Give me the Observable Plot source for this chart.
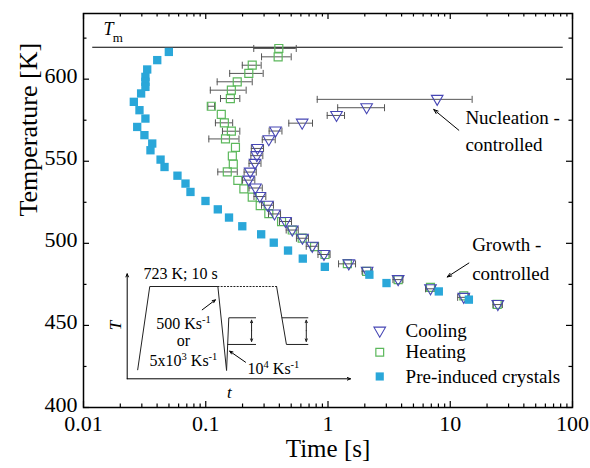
<!DOCTYPE html>
<html><head><meta charset="utf-8">
<script src="https://cdn.jsdelivr.net/npm/d3@7"></script>
<script src="https://cdn.jsdelivr.net/npm/@observablehq/plot@0.6"></script>
<style>
body{margin:0;background:#fff;}
#wrap{position:relative;width:590px;height:468px;}
#wrap svg, #wrap svg text{font-family:"Liberation Serif","Times New Roman",serif !important;}
</style></head><body><div id="wrap"></div>
<script>
const FONT = '"Liberation Serif","Times New Roman",serif';
const PURPLE = "#4646b4", GREEN = "#5cb85c", CYAN = "#2aa7d9", ERR = "#555";

// ---- data ----
const coolTime = [7.82,2.07,1.174,0.615,0.372,0.328,0.265,0.262,0.253,0.231,0.225,0.255,0.277,0.32,0.365,0.449,0.51,0.618,0.743,0.927,1.48,2.09,3.75,6.89,12.9,24.5];
const coolTemp = [587.7,582.6,577.9,573.2,568.4,563.1,557.8,553.4,548.7,543.4,538.5,533.7,528.5,523.2,517.9,513.3,508.1,503.1,498.2,493.2,487.5,483.0,477.9,472.3,467.1,462.7];
const coolLo = [0.816,1.2,0.985,0.478,0.33,0.29,0.236,0.234,0.226,0.206,0.2,0.226,0.248,0.286,0.326,0.401,0.455,0.552,0.664,0.828,1.22,1.9,3.4,6.28,11.5,22.4];
const coolHi = [15.1,2.9,1.365,0.747,0.42,0.37,0.297,0.293,0.283,0.259,0.252,0.29,0.31,0.358,0.409,0.503,0.571,0.692,0.832,1.04,1.68,2.3,4.1,7.55,14.3,26.7];

const heatTime = [0.396,0.391,0.24,0.225,0.181,0.162,0.159,0.111,0.134,0.142,0.162,0.145,0.175,0.165,0.168,0.15,0.183,0.205,0.24,0.279,0.328,0.417,0.51,0.615,0.776,0.945,1.44,2.07,3.75,6.89,12.9,24.2];
const heatTemp = [618.7,613.6,608.5,603.5,598.4,593.3,588.2,583.5,578.5,573.4,568.3,563.6,558.4,553.2,548.2,543.5,538.4,533.2,528.2,523.0,518.1,513.2,508.1,503.2,498.0,493.2,487.6,482.9,477.9,473.2,468.0,462.8];
const heatLo = [0.247,0.286,0.199,0.157,0.124,0.109,0.132,0.104,null,0.12,0.137,0.106,null,null,null,0.1255,null,null,null,null,null,null,null,null,null,null,null,null,null,null,null,null];
const heatHi = [0.55,0.5,0.284,0.295,0.24,0.214,0.19,0.118,null,0.166,0.19,0.187,null,null,null,0.181,null,null,null,null,null,null,null,null,null,null,null,null,null,null,null,null];

const preTime = [0.0499,0.0401,0.0332,0.0321,0.0321,0.0321,0.0296,0.0258,0.0287,0.0321,0.0275,0.0315,0.0365,0.0353,0.0427,0.046,0.0587,0.0683,0.075,0.0995,0.1255,0.155,0.199,0.284,0.36,0.471,0.622,0.942,2.18,3.01,8.06,14.2];
const preTemp = [616.6,611.6,605.9,601.4,598.4,595.3,591.3,586.2,581.1,576.0,570.9,565.9,560.8,556.7,551.0,546.5,541.2,536.4,531.3,525.8,520.7,515.7,510.4,505.5,500.4,495.6,490.7,485.7,480.9,475.8,470.7,465.7];

const Tm = 619.4;
const tmSpan = [0.0119, 84];
const xTicks = [0.01, 0.1, 1, 10, 100];
const xTickLabels = ["0.01", "0.1", "1", "10", "100"];
const xMinor = [0.02,0.03,0.04,0.05,0.06,0.07,0.08,0.09,0.2,0.3,0.4,0.5,0.6,0.7,0.8,0.9,2,3,4,5,6,7,8,9,20,30,40,50,60,70,80,90];
const yTicks = [400, 450, 500, 550, 600];
const yTickLabels = ["400", "450", "500", "550", "600"];
const yMinor = [425, 475, 525, 575, 625];

const legendNames = ["Cooling", "Heating", "Pre-induced crystals"];
const legendT = [446.5, 433.7, 418.9];
const legendX = 2.65, legendTextX = 4.31;

const notes = [
  {text: "Nucleation -", t: 13.3, T: 576.2},
  {text: "controlled", t: 13.3, T: 559.8},
  {text: "Growth -", t: 15.1, T: 498.8},
  {text: "controlled", t: 15.1, T: 481.5}
];
const noteArrows = [
  {x1: 11.75, y1: 568.9, x2: 7.33, y2: 581.5},
  {x1: 14.2, y1: 488.0, x2: 9.44, y2: 479.5}
];

// inset schematic (schematic units 0..100)
const insetLeft = [[4.7,8.6],[10.1,87.9],[40.6,87.9],[44.5,7.9],[45.5,58.1],[57.5,58.1]];
const insetLeftLow = [[45.0,32.7],[57.5,32.7]];
const insetDotted = [[40.6,87.9],[66.9,87.9]];
const insetRight = [[66.9,87.9],[71.3,32.7],[80.9,32.7]];
const insetRightHigh = [[69.4,58.1],[80.9,58.1]];
const insetAxes = [{x1:0,y1:0,x2:0,y2:100},{x1:0,y1:0,x2:100,y2:0}];
const insetDouble = [{x1:55.7,y1:45.8,x2:55.7,y2:55.8},{x1:55.7,y1:45.8,x2:55.7,y2:35.6},{x1:80.2,y1:45.8,x2:80.2,y2:55.8},{x1:80.2,y1:45.8,x2:80.2,y2:35.6}];
const insetPointers = [{x1:33.6,y1:65.7,x2:39.5,y2:75.2},{x1:53,y1:15.8,x2:45.9,y2:26.3}];
const insetTexts = [
  {text: "723 K; 10 s", x: 23.9, y: 99.5},
  {text: "500 Ks^{-1}", x: 25.2, y: 52.7},
  {text: "or", x: 25.2, y: 35.8},
  {text: "5x10^{3} Ks^{-1}", x: 25.2, y: 17.4},
  {text: "10^{4} Ks^{-1}", x: 65.5, y: 9.3}
];

// ---- build tables ----
const cool = coolTime.map((t,i)=>({t, T: coolTemp[i], lo: coolLo[i], hi: coolHi[i]}));
const heat = heatTime.map((t,i)=>({t, T: heatTemp[i], lo: heatLo[i], hi: heatHi[i]}));
const pre = preTime.map((t,i)=>({t, T: preTemp[i]}));
const coolE = cool.filter(d=>d.lo!=null), heatE = heat.filter(d=>d.lo!=null);

const downTri = {draw(ctx, size){ const k = Math.sqrt(size/58); ctx.moveTo(0, 6*k); ctx.lineTo(-5.8*k, -4*k); ctx.lineTo(5.8*k, -4*k); ctx.closePath(); }};
const capSym = {draw(ctx, size){ const h = Math.sqrt(size); ctx.moveTo(0,-h/2); ctx.lineTo(0,h/2); }};

function errMarks(data, color){
  return [
    Plot.ruleY(data, {y: "T", x1: "lo", x2: "hi", stroke: color, strokeWidth: 1}),
    Plot.dot(data, {x: "lo", y: "T", symbol: capSym, r: 3.95, stroke: color, fill: "none", strokeWidth: 1}),
    Plot.dot(data, {x: "hi", y: "T", symbol: capSym, r: 3.95, stroke: color, fill: "none", strokeWidth: 1})
  ];
}

const main = Plot.plot({
  width: 590, height: 468,
  marginLeft: 83, marginRight: 18, marginTop: 13, marginBottom: 61,
  style: {fontFamily: FONT, background: "white", color: "black", overflow: "visible"},
  x: {type: "log", domain: [0.01, 100], axis: null},
  y: {domain: [400, 640], axis: null},
  marks: [
    Plot.ruleY([Tm], {y: d=>d, x1: tmSpan[0], x2: tmSpan[1], stroke: "black", strokeWidth: 1.1}),
    ...errMarks(heatE, ERR),
    Plot.dot(heat, {x: "t", y: "T", symbol: "square", r: 4.5, stroke: GREEN, fill: "none", strokeWidth: 1.2}),
    ...errMarks(coolE, ERR),
    Plot.dot(cool, {x: "t", y: "T", symbol: downTri, r: 4.3, stroke: PURPLE, fill: "none", strokeWidth: 1.1}),
    Plot.dot(pre, {x: "t", y: "T", symbol: "square", r: 4.7, fill: CYAN, stroke: "none"}),
    // frame and ticks
    Plot.frame({stroke: "black", strokeWidth: 1.5}),
    Plot.ruleX(xTicks, {x: d=>d, insetTop: 388, stroke: "black", strokeWidth: 1.2}),
    Plot.ruleX(xMinor, {x: d=>d, insetTop: 390.5, stroke: "black", strokeWidth: 1.2}),
    Plot.ruleX(xTicks, {x: d=>d, insetBottom: 388, stroke: "black", strokeWidth: 1.2}),
    Plot.ruleX(xMinor, {x: d=>d, insetBottom: 390.5, stroke: "black", strokeWidth: 1.2}),
    Plot.ruleY(yTicks, {y: d=>d, insetRight: 483, stroke: "black", strokeWidth: 1.2}),
    Plot.ruleY(yMinor, {y: d=>d, insetRight: 485.5, stroke: "black", strokeWidth: 1.2}),
    Plot.ruleY(yTicks, {y: d=>d, insetLeft: 483, stroke: "black", strokeWidth: 1.2}),
    Plot.ruleY(yMinor, {y: d=>d, insetLeft: 485.5, stroke: "black", strokeWidth: 1.2}),
    Plot.text(xTicks, {x: d=>d, text: (d,i)=>xTickLabels[i], frameAnchor: "bottom", dy: 23, fontSize: 22, fill: "black"}),
    Plot.text(yTicks, {y: d=>d, text: (d,i)=>yTickLabels[i], frameAnchor: "left", dx: -6, dy: -3, textAnchor: "end", fontSize: 22, fill: "black"}),
    Plot.text(["Time [s]"], {frameAnchor: "bottom", dy: 49, fontSize: 25, fill: "black"}),
    Plot.text(["Temperature [K]"], {frameAnchor: "left", dx: -55, dy: 6, rotate: -90, fontSize: 26, fill: "black"}),
    // Tm label
    Plot.text(["T"], {x: 0.016, y: 630.3, fontSize: 18, fontStyle: "italic", fill: "black"}),
    Plot.text(["m"], {x: 0.0191, y: 625.4, fontSize: 13, fill: "black"}),
    // annotations
    Plot.text(notes, {x: "t", y: "T", text: "text", textAnchor: "start", fontSize: 19, fill: "black"}),
    Plot.arrow(noteArrows, {x1: "x1", y1: "y1", x2: "x2", y2: "y2", stroke: "black", strokeWidth: 1, headLength: 7, headAngle: 40}),
    // legend
    Plot.dot([0], {x: legendX, y: legendT[0], symbol: downTri, r: 4.3, stroke: PURPLE, fill: "none", strokeWidth: 1.1}),
    Plot.dot([0], {x: legendX, y: legendT[1], symbol: "square", r: 4.4, stroke: GREEN, fill: "none", strokeWidth: 1.2}),
    Plot.dot([0], {x: legendX, y: legendT[2], symbol: "square", r: 4.6, fill: CYAN, stroke: "none"}),
    Plot.text(legendNames, {x: legendTextX, y: (d,i)=>legendT[i], text: d=>d, textAnchor: "start", fontSize: 19, fill: "black"})
  ]
});

const inset = Plot.plot({
  width: 250, height: 140,
  marginLeft: 21.7, marginRight: 5, marginTop: 11.3, marginBottom: 23.7,
  x: {domain: [0, 100], axis: null},
  y: {domain: [0, 100], axis: null},
  style: {fontFamily: FONT, background: "transparent", color: "black", overflow: "visible"},
  marks: [
    Plot.arrow(insetAxes, {x1: "x1", y1: "y1", x2: "x2", y2: "y2", stroke: "black", strokeWidth: 1, headLength: 5, headAngle: 45}),
    Plot.line(insetLeft, {x: d=>d[0], y: d=>d[1], stroke: "#222", strokeWidth: 1, curve: "linear"}),
    Plot.line(insetLeftLow, {x: d=>d[0], y: d=>d[1], stroke: "#222", strokeWidth: 1}),
    Plot.line(insetDotted, {x: d=>d[0], y: d=>d[1], stroke: "#222", strokeWidth: 1, strokeDasharray: "1.2,2"}),
    Plot.line(insetRight, {x: d=>d[0], y: d=>d[1], stroke: "#222", strokeWidth: 1}),
    Plot.line(insetRightHigh, {x: d=>d[0], y: d=>d[1], stroke: "#222", strokeWidth: 1}),
    Plot.arrow(insetDouble, {x1: "x1", y1: "y1", x2: "x2", y2: "y2", stroke: "#222", strokeWidth: 1, headLength: 4, headAngle: 45}),
    Plot.arrow(insetPointers, {x1: "x1", y1: "y1", x2: "x2", y2: "y2", stroke: "black", strokeWidth: 1, headLength: 5, headAngle: 45}),
    Plot.text(insetTexts, {x: "x", y: "y", text: "text", fontSize: 16, fill: "black"}),
    Plot.text(["T"], {x: -5.2, y: 50.8, rotate: -90, fontSize: 17, fontStyle: "italic", fill: "black"}),
    Plot.text(["t"], {x: 45.8, y: -13, fontSize: 17, fontStyle: "italic", fill: "black"})
  ]
});

// superscripts: "^{...}" -> tspans
function superscripts(svg){
  d3.select(svg).selectAll("text").each(function(){
    const el = this;
    const s = el.textContent;
    if (!s.includes("^{")) return;
    const parts = s.split(/(\^\{[^}]*\})/);
    while (el.firstChild) el.removeChild(el.firstChild);
    let shifted = false;
    for (const p of parts){
      if (!p) continue;
      const ts = document.createElementNS("http://www.w3.org/2000/svg","tspan");
      if (p.startsWith("^{")){
        ts.textContent = p.slice(2,-1);
        ts.setAttribute("font-size","10.5");
        ts.setAttribute("dy","-6");
        shifted = true;
      } else {
        ts.textContent = p;
        if (shifted){ ts.setAttribute("dy","6"); shifted = false; }
      }
      el.appendChild(ts);
    }
  });
}
superscripts(inset);

inset.style.position = "absolute";
inset.style.left = "105px";
inset.style.top = "262px";
const wrap = document.getElementById("wrap");
wrap.appendChild(main);
wrap.appendChild(inset);
</script></body></html>
